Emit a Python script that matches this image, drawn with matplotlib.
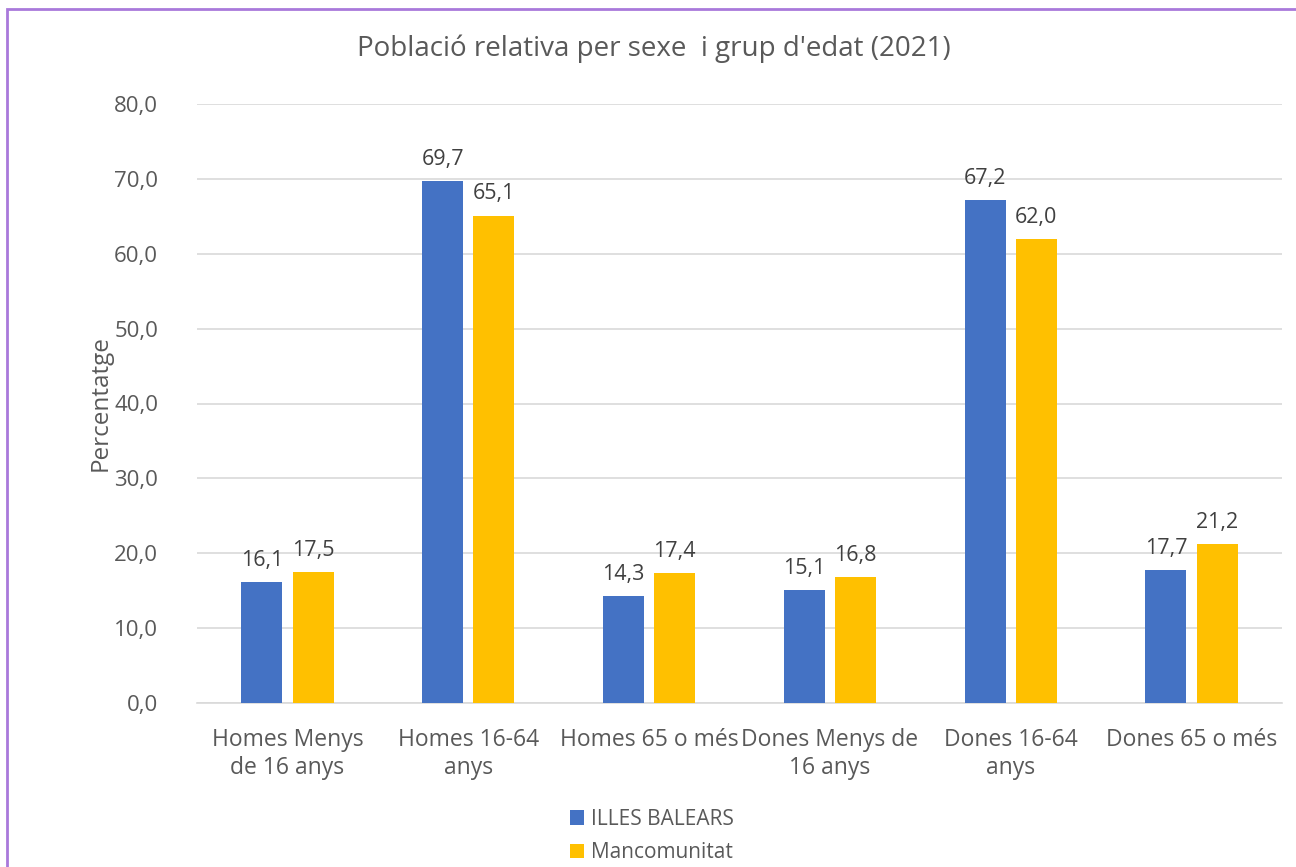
import matplotlib
matplotlib.use("Agg")
import matplotlib.pyplot as plt
import numpy as np
from matplotlib.patches import Rectangle

categories = ["Homes Menys\nde 16 anys", "Homes 16-64\nanys", "Homes 65 o més",
              "Dones Menys de\n16 anys", "Dones 16-64\nanys", "Dones 65 o més"]
illes_balears = [16.1, 69.7, 14.3, 15.1, 67.2, 17.7]
mancomunitat = [17.5, 65.1, 17.4, 16.8, 62.0, 21.2]
series_names = ["ILLES BALEARS", "Mancomunitat"]
yticks = [0, 10, 20, 30, 40, 50, 60, 70, 80]

plt.rcParams['font.family'] = ['Open Sans', 'DejaVu Sans']
txt = "#595959"

W, H = 1296, 867
fig = plt.figure(figsize=(W/100, H/100), dpi=100)
ax = fig.add_axes([197/W, 1-703/H, (1282-197)/W, (703-104)/H])

x = np.arange(len(categories))
bw = 0.227
off = 0.142
b1 = ax.bar(x - off, illes_balears, bw, color="#4472C4", label=series_names[0], zorder=3)
b2 = ax.bar(x + off, mancomunitat, bw, color="#FFC000", label=series_names[1], zorder=3)

for bars in (b1, b2):
    for r in bars:
        v = r.get_height()
        ax.annotate(f"{v:.1f}".replace(".", ","), (r.get_x() + r.get_width()/2, v),
                    xytext=(0, 8), textcoords="offset points", ha="center", va="bottom",
                    fontsize=15.5, color="#404040")

ax.set_xlim(-0.5, len(categories) - 0.5)
ax.set_ylim(0, 80)
ax.set_yticks(yticks)
ax.set_yticklabels([f"{t:.1f}".replace(".", ",") for t in yticks], fontsize=16, color=txt)
ax.set_xticks(x)
ax.set_xticklabels(categories, fontsize=16.5, color=txt, linespacing=1.2)
ax.tick_params(axis="both", length=0)
ax.tick_params(axis="x", pad=18)
ax.tick_params(axis="y", pad=28)
ax.grid(axis="y", color="#D9D9D9", linewidth=1.2, zorder=0)
for s in ["top", "right", "left"]:
    ax.spines[s].set_visible(False)
ax.spines["bottom"].set_color("#D9D9D9")
ax.spines["bottom"].set_linewidth(1.2)

ax.set_ylabel("Percentatge", fontsize=17.5, color=txt)
ax.yaxis.set_label_coords(-(197-113)/(1282-197), 0.5)

fig.text(654/W, 1-49/H, "Població relativa per sexe  i grup d'edat (2021)", ha="center", va="center",
         fontsize=20, color=txt)

leg = fig.legend(handles=[b1, b2], labels=series_names, loc="upper left",
                 bbox_to_anchor=(551/W, 1-790/H), frameon=False, fontsize=15,
                 handlelength=0.7, handleheight=0.7, handletextpad=0.3, labelspacing=0.6)
for t in leg.get_texts():
    t.set_color(txt)

fig.patches.append(Rectangle((7/W, -0.2), 1.2, 1.2-9/H, transform=fig.transFigure,
                             fill=False, edgecolor="#A979DB", linewidth=2, clip_on=False))

fig.savefig("out.png", dpi=100, facecolor="white")
